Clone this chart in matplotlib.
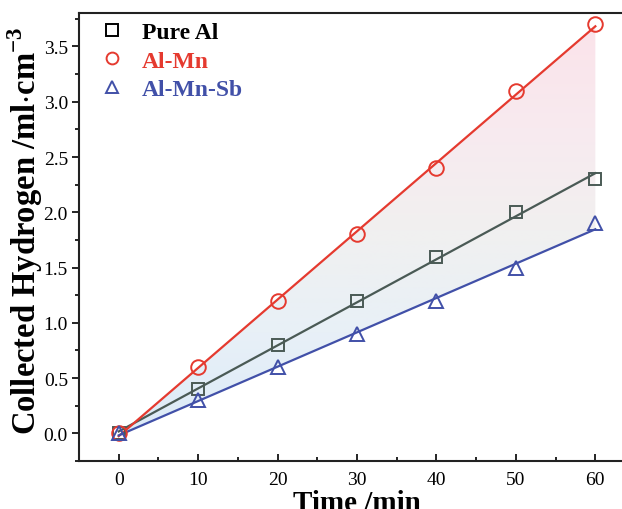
import numpy as np
import matplotlib
matplotlib.use("Agg")
import matplotlib.pyplot as plt
from matplotlib.colors import LinearSegmentedColormap
from matplotlib.patches import Polygon

plt.rcParams['font.family'] = ['Liberation Serif', 'DejaVu Serif']
plt.rcParams['mathtext.fontset'] = 'custom'
plt.rcParams['mathtext.rm'] = 'Liberation Serif'
plt.rcParams['mathtext.bf'] = 'Liberation Serif:bold'

# data
time_min = [0, 10, 20, 30, 40, 50, 60]
pure_al = [0.0, 0.4, 0.8, 1.2, 1.6, 2.0, 2.3]
al_mn = [0.0, 0.6, 1.2, 1.8, 2.4, 3.1, 3.7]
al_mn_sb = [0.0, 0.3, 0.6, 0.9, 1.2, 1.5, 1.9]

labels = ['Pure Al', 'Al-Mn', 'Al-Mn-Sb']
colors = ['#4a5a55', '#e53a2f', '#4150a8']
text_colors = ['black', '#e53a2f', '#4150a8']
markers = ['s', 'o', '^']
msizes = [9, 10.5, 10.5]

fig = plt.figure(figsize=(6.22, 5.10), dpi=100)
ax = fig.add_axes([0.127, 0.094, 0.894, 0.878])

x = np.array(time_min, dtype=float)
fits = []
for ys in (pure_al, al_mn, al_mn_sb):
    k, b = np.polyfit(x, ys, 1)
    fits.append((k, b))

xl = np.array([x[0], x[-1]])
top = fits[1][0] * xl + fits[1][1]
bot = fits[2][0] * xl + fits[2][1]

# gradient fill between Al-Mn and Al-Mn-Sb fits
cmap = LinearSegmentedColormap.from_list(
    'g', ['#dcebf8', '#e8f0f7', '#f1f0f0', '#f8eaef', '#fbe3ea'])
grad = np.linspace(0, 1, 256).reshape(-1, 1)
img = ax.imshow(grad, aspect='auto', cmap=cmap, origin='lower',
                extent=[xl[0], xl[1], bot.min(), top.max()], zorder=1)
poly = Polygon([[xl[0], top[0]], [xl[1], top[1]], [xl[1], bot[1]], [xl[0], bot[0]]],
               closed=True, facecolor='none', edgecolor='none')
ax.add_patch(poly)
img.set_clip_path(poly)

handles = []
for ys, (k, b), c, m, ms, lab in zip((pure_al, al_mn, al_mn_sb), fits, colors,
                                      markers, msizes, labels):
    ax.plot(xl, k * xl + b, color=c, lw=1.6, zorder=3)
    h, = ax.plot(x, ys, ls='none', marker=m, ms=ms, mfc='none', mec=c,
                 mew=1.4, zorder=4, label=lab)
    handles.append(h)

ax.set_xlim(-5, 65)
ax.set_ylim(-0.2, 3.8)
ax.set_xticks(np.arange(0, 61, 10))
ax.set_xticks(np.arange(-5, 66, 5), minor=True)
ax.set_yticks(np.arange(0, 3.6, 0.5))
ax.set_yticks(np.arange(-0.25, 3.8, 0.25), minor=True)
ax.yaxis.set_major_formatter(matplotlib.ticker.FormatStrFormatter('%.1f'))
ax.tick_params(axis='x', which='both', direction='in', labelsize=14, pad=7)
ax.tick_params(axis='x', which='major', length=5, width=1.2)
ax.tick_params(axis='x', which='minor', length=3, width=1.2)
ax.tick_params(axis='y', which='both', direction='out', labelsize=14, pad=3)
ax.tick_params(axis='y', which='major', length=5, width=1.2)
ax.tick_params(axis='y', which='minor', length=3, width=1.2)
for s in ax.spines.values():
    s.set_linewidth(1.5)
    s.set_color('#222222')

ax.set_xlabel('Time /min', fontsize=21, fontweight='bold', labelpad=1)
ax.set_ylabel(r'Collected Hydrogen /ml$\mathbf{\cdot}$cm$^{\mathbf{-3}}$',
              fontsize=23.5, fontweight='bold')
ax.yaxis.set_label_coords(-0.062, 0.516)

leg = ax.legend(handles=handles, loc='upper left', frameon=False,
                prop={'size': 17, 'weight': 'bold'}, handlelength=1.47,
                handletextpad=0.53, labelspacing=0.3, borderpad=0.35,
                borderaxespad=0.0, bbox_to_anchor=(0.013, 1.0))
for t, c in zip(leg.get_texts(), text_colors):
    t.set_color(c)
for h in leg.legend_handles:
    h.set_markersize(8.5)
leg.legend_handles[0].set_markeredgecolor('black')

fig.savefig('out.png', dpi=100)
